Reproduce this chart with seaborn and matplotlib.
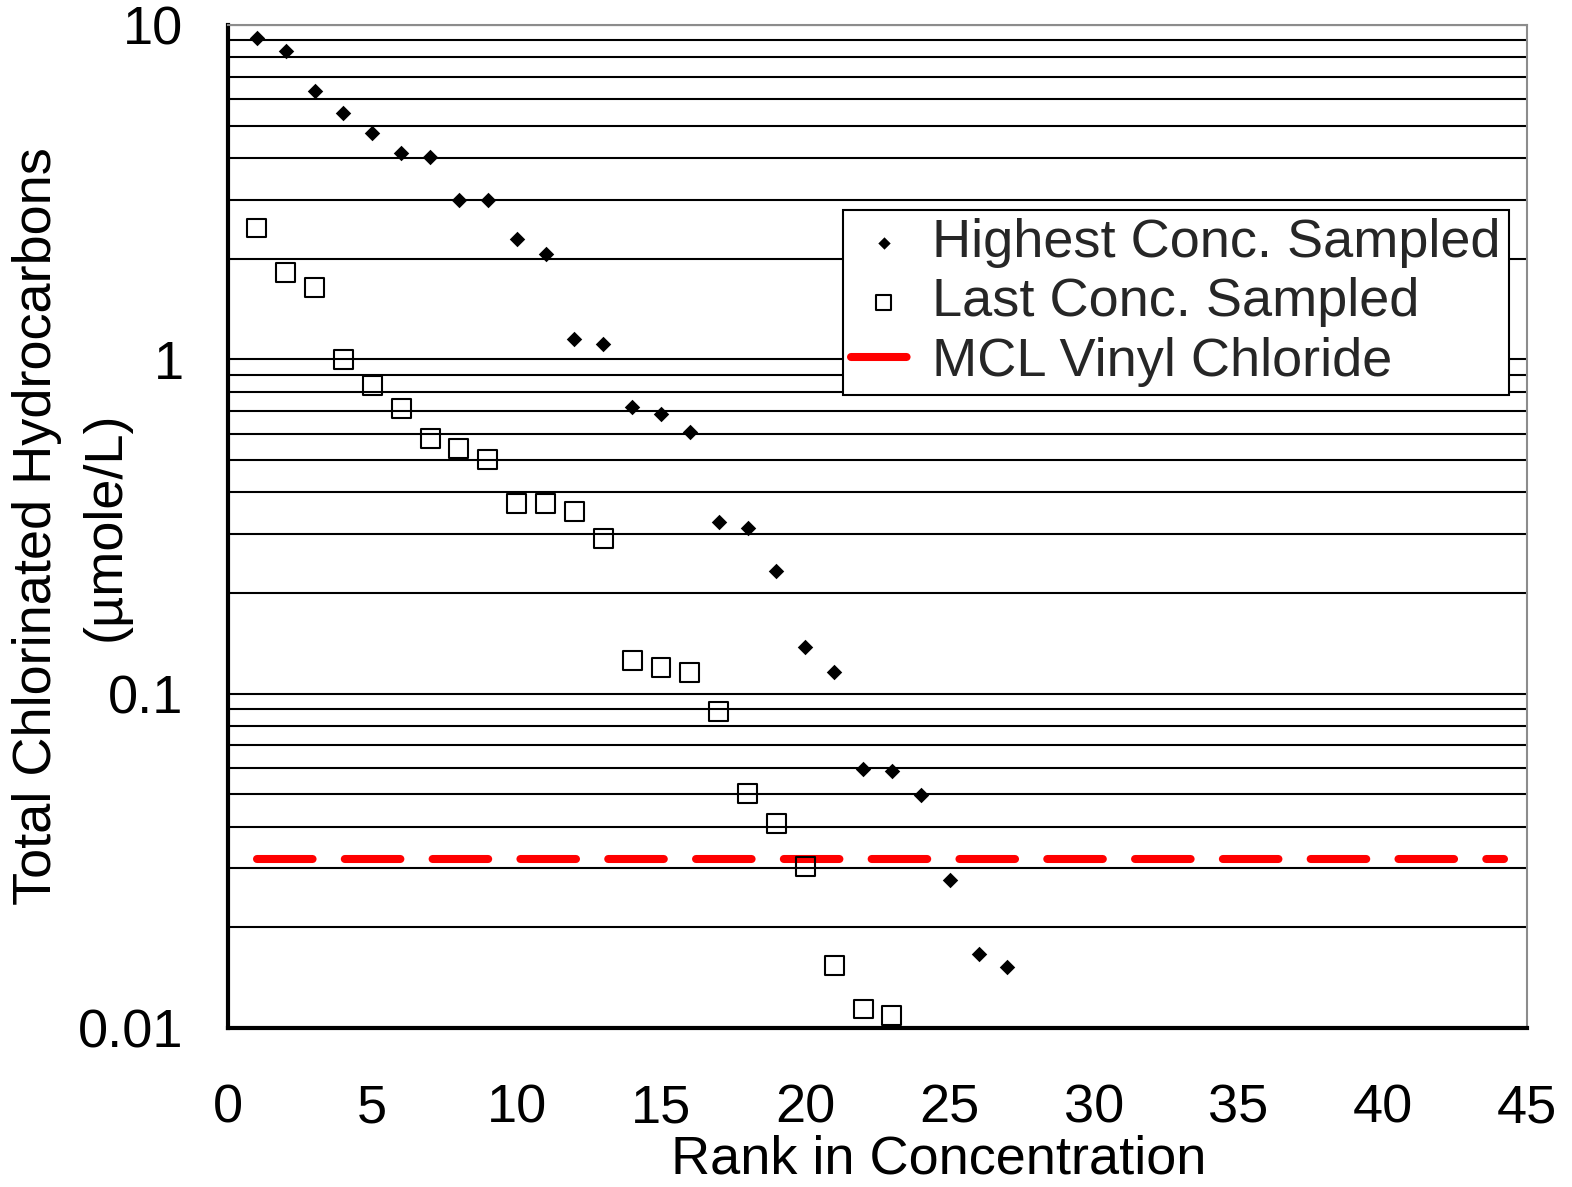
import numpy as np
import pandas as pd
import matplotlib
matplotlib.use("Agg")
import matplotlib.pyplot as plt
import seaborn as sns
from matplotlib.ticker import LogLocator, FixedLocator, FixedFormatter, NullFormatter

# ---------------- data ----------------
rank_highest = list(range(1, 28))
highest_conc = [9.14, 8.36, 6.34, 5.45, 4.75, 4.14, 4.03, 2.99, 2.99, 2.29,
                2.06, 1.15, 1.11, 0.718, 0.685, 0.608, 0.327, 0.314, 0.232,
                0.138, 0.116, 0.0596, 0.0587, 0.0499, 0.0277, 0.0167, 0.0152]
rank_last = list(range(1, 24))
last_conc = [2.47, 1.82, 1.64, 1.0, 0.836, 0.713, 0.580, 0.542, 0.502, 0.371,
             0.371, 0.351, 0.291, 0.126, 0.120, 0.116, 0.0883, 0.0502, 0.0408,
             0.0305, 0.0154, 0.0114, 0.0109]
mcl_x = [1, 44.2]
mcl_y = [0.032, 0.032]

x_ticks = [0, 5, 10, 15, 20, 25, 30, 35, 40, 45]
y_ticks = [0.01, 0.1, 1, 10]
y_tick_labels = ["0.01", "0.1", "1", "10"]

label_highest = "Highest Conc. Sampled"
label_last = "Last Conc. Sampled"
label_mcl = "MCL Vinyl Chloride"
ylabel_line1 = "Total Chlorinated Hydrocarbons"
ylabel_line2 = "(µmole/L)"
xlabel = "Rank in Concentration"

# ---------------- style ----------------
sns.set_theme(style="white")
plt.rcParams["font.family"] = ["Liberation Sans", "DejaVu Sans"]

FS = 39

fig = plt.figure(figsize=(15.72, 11.87), dpi=100, facecolor="white")
ax = fig.add_axes([228 / 1572, 1 - 1028 / 1187, 1299 / 1572, 1003 / 1187])
ax.set_facecolor("white")

sns.scatterplot(x=rank_highest, y=highest_conc, marker="D", s=62,
                color="black", linewidth=0, ax=ax, zorder=4,
                label=label_highest, legend=False)
sns.scatterplot(x=rank_last, y=last_conc, marker="s", s=185,
                facecolor="none", edgecolor="black", linewidth=1.5,
                ax=ax, zorder=4, label=label_last, legend=False)
sns.lineplot(x=mcl_x, y=mcl_y, color="#ff0000", linewidth=5.8,
             linestyle=(0, (6.9, 4.0)), dash_capstyle="round",
             errorbar=None, ax=ax, zorder=3, label=label_mcl, legend=False)

ax.set_yscale("log")
ax.set_xlim(0, 45)
ax.set_ylim(0.01, 10)

ax.xaxis.set_major_locator(FixedLocator(x_ticks))
ax.yaxis.set_major_locator(FixedLocator(y_ticks))
ax.yaxis.set_major_formatter(FixedFormatter(y_tick_labels))
ax.yaxis.set_minor_locator(LogLocator(base=10, subs=np.arange(2, 10)))
ax.yaxis.set_minor_formatter(NullFormatter())

ax.set_axisbelow(True)
ax.yaxis.grid(True, which="both", color="black", linewidth=1.5)
ax.xaxis.grid(False)

ax.tick_params(axis="both", which="major", direction="out", length=11,
               width=3, color="black", labelsize=FS, labelcolor="black")
ax.tick_params(axis="y", which="major", pad=21)
ax.tick_params(axis="x", which="major", pad=29)
ax.tick_params(axis="y", which="minor", length=0)

for side in ["left", "bottom"]:
    ax.spines[side].set_color("black")
    ax.spines[side].set_linewidth(3)
for side in ["top", "right"]:
    ax.spines[side].set_color("#8c8c8c")
    ax.spines[side].set_linewidth(1.5)
    ax.spines[side].set_visible(True)

ax.set_xlabel(xlabel, fontsize=FS, color="black")
ax.xaxis.set_label_coords((939 - 228) / 1299, -0.106)

ax.set_ylabel(ylabel_line1, fontsize=FS, color="black", ha="center", va="center")
ax.yaxis.set_label_coords(-(228 - 37) / 1299, 0.5)
ax.text(-(228 - 106) / 1299, 0.5, ylabel_line2, transform=ax.transAxes,
        rotation=90, fontsize=FS, color="black", ha="center", va="center")

handles, labels = ax.get_legend_handles_labels()
order = [labels.index(l) for l in [label_highest, label_last, label_mcl]]
leg = ax.legend([handles[i] for i in order], [labels[i] for i in order],
                loc="upper left", bbox_to_anchor=((843 - 228) / 1299, 1 - (210 - 25) / 1003),
                borderaxespad=0, fontsize=FS, frameon=True, fancybox=False,
                edgecolor="black", framealpha=1, handlelength=1.2,
                handletextpad=0.3, labelspacing=0.17, borderpad=0.15,
                markerscale=0.8)
leg.get_frame().set_linewidth(1.5)

fig.savefig("out.png", dpi=100, facecolor="white")
